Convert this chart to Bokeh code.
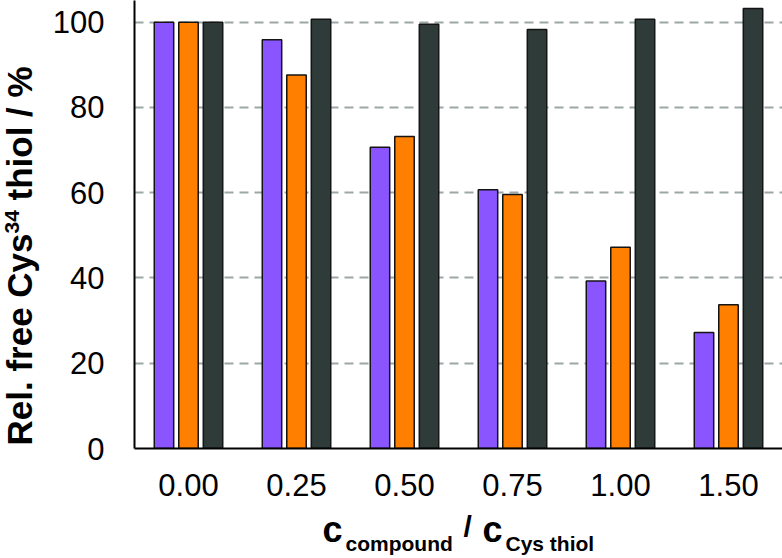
import math

from bokeh.core.properties import value
from bokeh.embed import file_html
from bokeh.layouts import column, row
from bokeh.models import ColumnDataSource, FactorRange, FixedTicker, Range1d
from bokeh.plotting import figure
from bokeh.resources import INLINE
from bokeh.transform import dodge

# Molar ratio compound : Cys thiol (x categories)
ratios = ["0.00", "0.25", "0.50", "0.75", "1.00", "1.50"]

# Relative free Cys34 thiol (%) for the three series
series_purple = [100.0, 95.9, 70.7, 60.7, 39.3, 27.2]
series_orange = [100.0, 87.6, 73.2, 59.6, 47.2, 33.7]
series_dark = [100.0, 100.7, 99.5, 98.3, 100.7, 103.2]

y_ticks = [0, 20, 40, 60, 80, 100]

PURPLE = "#8A55FF"
ORANGE = "#FF8000"
DARK = "#2E3B38"
EDGE = "#141414"
FONT = "Liberation Sans"

TOTAL_W, TOTAL_H = 782, 558
YTITLE_W = 40      # strip holding the rotated y title
XTITLE_H = 49      # strip holding the x title
MAIN_W = TOTAL_W - YTITLE_W
MAIN_H = TOTAL_H - XTITLE_H
BORDER_BOTTOM = 61


def no_frame_align(fig):
    # keep each figure's frame where its own borders put it
    if "frame_align" in fig.properties():
        fig.frame_align = False


source = ColumnDataSource(data=dict(
    ratio=ratios,
    purple=series_purple,
    orange=series_orange,
    dark=series_dark,
))

p = figure(
    x_range=FactorRange(*ratios),
    y_range=Range1d(0, 105.1),
    width=MAIN_W,
    height=MAIN_H,
    output_backend="svg",
    toolbar_location=None,
    tools="",
    min_border_left=134 - YTITLE_W,
    min_border_right=0,
    min_border_top=0,
    min_border_bottom=BORDER_BOTTOM,
)
p.outline_line_color = None
p.background_fill_color = "white"
p.border_fill_color = "white"
no_frame_align(p)

bar_w = 0.18
offset = 0.227
for col, dx, color in (("purple", -offset, PURPLE), ("orange", 0.0, ORANGE), ("dark", offset, DARK)):
    p.vbar(
        x=dodge("ratio", dx, range=p.x_range),
        top=col,
        bottom=0,
        width=bar_w,
        source=source,
        fill_color=color,
        line_color=EDGE,
        line_width=1.5,
    )

# Grid
p.xgrid.visible = False
p.ygrid.grid_line_color = "#9CA8A5"
p.ygrid.grid_line_width = 1.8
p.ygrid.grid_line_dash = "9 6"

# Axes
p.yaxis.ticker = FixedTicker(ticks=y_ticks)
for ax in (p.xaxis[0], p.yaxis[0]):
    ax.axis_line_color = "black"
    ax.axis_line_width = 2
    ax.major_tick_out = 0
    ax.major_tick_in = 0
    ax.minor_tick_out = 0
    ax.minor_tick_in = 0
    ax.major_label_text_font = FONT
    ax.major_label_text_font_size = "31px"
    ax.major_label_text_color = "black"
p.yaxis.major_label_standoff = 30
p.xaxis.major_label_standoff = 25


def text_strip(width, height, border_bottom=0):
    f = figure(
        width=width, height=height,
        x_range=Range1d(0, width), y_range=Range1d(0, height - border_bottom),
        x_axis_location=None, y_axis_location=None,
        min_border=0, min_border_bottom=border_bottom,
        output_backend="svg", toolbar_location=None, tools="",
    )
    f.outline_line_color = None
    f.grid.visible = False
    f.background_fill_color = "white"
    f.border_fill_color = "white"
    no_frame_align(f)
    return f


def put(f, text, x, y, size, angle=0.0):
    f.text(
        x=[x], y=[y], text=[text], angle=angle,
        text_font=value(FONT), text_font_style="bold",
        text_font_size=size, text_color="black",
        text_align="left", text_baseline="alphabetic",
    )


# y title: Rel. free Cys^34 thiol / %   (y measured up from the frame bottom)
ytitle = text_strip(YTITLE_W, MAIN_H, BORDER_BOTTOM)
up = math.pi / 2
put(ytitle, "Rel. free Cys", 19, 3, "35px", up)
put(ytitle, "34", 11, 215, "21px", up)
put(ytitle, "thiol / %", 19, 248, "35px", up)

# x title: c_compound / c_Cys thiol   (y measured up from the page bottom)
xtitle = text_strip(TOTAL_W, XTITLE_H)
put(xtitle, "c", 322, 29.5, "36px")
put(xtitle, "compound", 345, 15, "21px")
put(xtitle, "/", 463, 32, "30px")
put(xtitle, "c", 482, 29.5, "36px")
put(xtitle, "Cys thiol", 505, 15, "21px")

layout = column(row(ytitle, p, spacing=0), xtitle, spacing=0)

open("out.html", "w").write(file_html(layout, INLINE))
